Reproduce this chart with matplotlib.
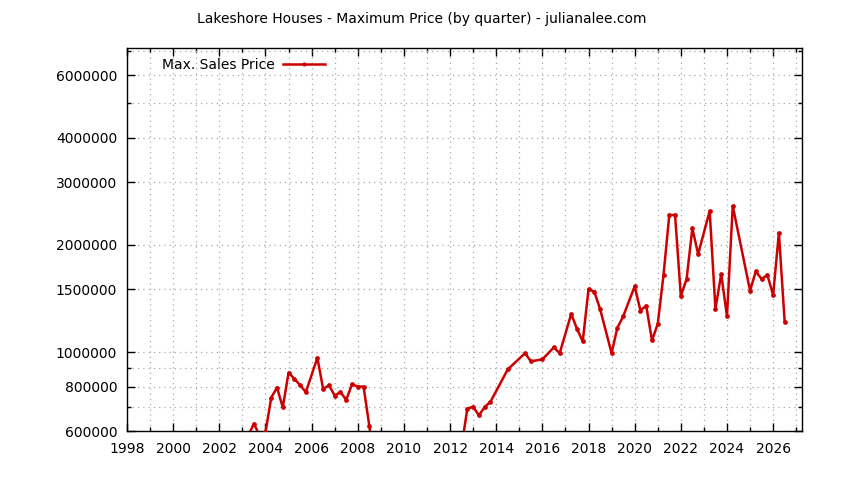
import matplotlib
matplotlib.use('Agg')
import matplotlib.pyplot as plt
from matplotlib.ticker import FixedLocator, FixedFormatter, NullFormatter
from matplotlib.patches import Rectangle

plt.rcParams['font.family'] = 'DejaVu Sans'
plt.rcParams['font.size'] = 10

# quarterly max sales price (points under 600000 are cut off by the axis)
quarters = [2003.25, 2003.5, 2003.75, 2004.0, 2004.25, 2004.5, 2004.75,
            2005.0, 2005.25, 2005.5, 2005.75, 2006.25, 2006.5, 2006.75,
            2007.0, 2007.25, 2007.5, 2007.75, 2008.0, 2008.25, 2008.5, 2008.75,
            2012.5, 2012.75, 2013.0, 2013.25, 2013.5, 2013.75, 2014.5,
            2015.25, 2015.5, 2016.0, 2016.5, 2016.75, 2017.25, 2017.5, 2017.75,
            2018.0, 2018.25, 2018.5, 2019.0, 2019.25, 2019.5, 2020.0, 2020.25,
            2020.5, 2020.75, 2021.0, 2021.25, 2021.5, 2021.75, 2022.0, 2022.25,
            2022.5, 2022.75, 2023.25, 2023.5, 2023.75, 2024.0, 2024.25,
            2025.0, 2025.25, 2025.5, 2025.75, 2026.0, 2026.25, 2026.5]
max_price = [582000, 629000, 582000, 595000, 745000, 795000, 699000,
             875000, 842000, 807000, 772000, 964000, 787000, 807000,
             755000, 772000, 734000, 812000, 800000, 800000, 621000, 480000,
             545000, 694000, 702000, 664000, 701000, 725000, 894000,
             993000, 942000, 954000, 1031000, 992000, 1280000, 1162000, 1071000,
             1504000, 1478000, 1322000, 993000, 1170000, 1259000, 1530000, 1308000,
             1350000, 1078000, 1200000, 1646000, 2427000, 2427000, 1438000, 1604000,
             2228000, 1885000, 2491000, 1322000, 1657000, 1261000, 2573000,
             1488000, 1685000, 1604000, 1646000, 1447000, 2162000, 1216000]

y_major = [600000, 800000, 1000000, 1500000, 2000000, 3000000, 4000000, 6000000]
y_minor = [700000, 900000, 5000000, 7000000]
x_major = list(range(1998, 2027, 2))
x_minor = list(range(1999, 2028, 2))

fig = plt.figure(figsize=(8.44, 4.8), dpi=100)
ax = fig.add_axes([0.1505, 0.102, 0.7997, 0.798])

ax.plot(quarters, max_price, color='#cc0000', linewidth=1.8, marker='o',
        markersize=2.4, label='Max. Sales Price', zorder=3)

ax.set_yscale('log')
ax.set_xlim(1998, 2027.25)
ax.set_ylim(600000, 7150000)

ax.yaxis.set_major_locator(FixedLocator(y_major))
ax.yaxis.set_major_formatter(FixedFormatter([str(v) for v in y_major]))
ax.yaxis.set_minor_locator(FixedLocator(y_minor))
ax.yaxis.set_minor_formatter(NullFormatter())
ax.xaxis.set_major_locator(FixedLocator(x_major))
ax.xaxis.set_major_formatter(FixedFormatter([str(v) for v in x_major]))
ax.xaxis.set_minor_locator(FixedLocator(x_minor))

ax.tick_params(which='both', direction='in', top=True, right=True, width=1)
ax.tick_params(which='major', length=6)
ax.tick_params(which='minor', length=3)
ax.tick_params(axis='x', which='major', pad=8)
ax.tick_params(axis='y', which='major', pad=7)

ax.grid(True, which='both', color='#a8a8a8', linestyle=(0, (1, 3.2)), linewidth=0.9)
for s in ax.spines.values():
    s.set_linewidth(1)

# white patch behind the legend, hiding the grid like gnuplot's key box
ax.add_patch(Rectangle((0.005, 0.924), 0.303, 0.071, transform=ax.transAxes,
                       facecolor='white', edgecolor='none', zorder=1))
ax.legend(loc='center left', bbox_to_anchor=(0.0514, 0.9556), frameon=False,
          markerfirst=False, handlelength=3.0, handletextpad=0.65,
          borderpad=0, borderaxespad=0, markerscale=0.8)

fig.suptitle('Lakeshore Houses - Maximum Price (by quarter) - julianalee.com',
             y=1 - 19 / 480, va='center', fontsize=10)

fig.savefig('out.png', dpi=100)
